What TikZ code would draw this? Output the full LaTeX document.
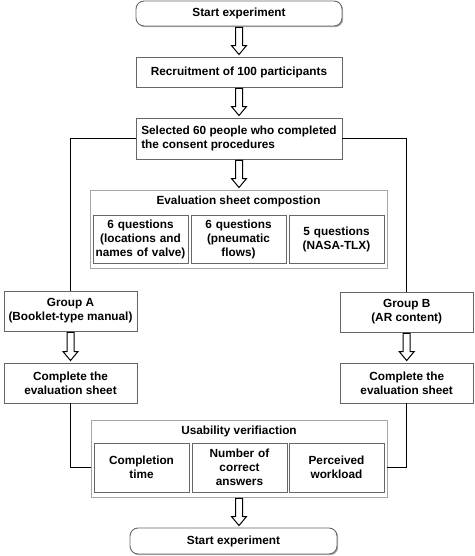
\documentclass[tikz,border=0pt]{standalone}
\usepackage{fontspec}
\setmainfont{Liberation Sans}
\usetikzlibrary{calc,shadows}
\tikzset{
  txt/.style={font=\fontsize{11.8}{14}\selectfont\bfseries, align=center},
  box/.style={txt, draw=black!60, line width=0.9pt, fill=white, inner sep=1pt,
    drop shadow={shadow xshift=1.2pt, shadow yshift=-1.2pt, fill=black!45, opacity=0.7}},
  outerbox/.style={draw=black!35, line width=0.9pt, fill=white, inner sep=0pt,
    drop shadow={shadow xshift=1.2pt, shadow yshift=-1.2pt, fill=black!30, opacity=0.6}},
  rbox/.style={box, rounded corners=8pt},
  conn/.style={draw=black, line width=1.2pt},
  harrow/.style={draw=black, line width=1pt, fill=white, line join=miter},
}
\newcommand{\harrow}[2]{%
  \draw[harrow] let \p1=(#1.south), \p2=(#2.north) in
    (\x1-3.5pt,\y1-1pt) -- (\x1-3.5pt,\y2+11pt) -- (\x1-7.5pt,\y2+11pt) --
    (\x1,\y2+2pt) -- (\x1+7.5pt,\y2+11pt) -- (\x1+3.5pt,\y2+11pt) --
    (\x1+3.5pt,\y1-1pt) -- cycle;}
\begin{document}
\begin{tikzpicture}[x=1pt,y=-1pt]
\useasboundingbox[fill=white] (0,0) rectangle (474,556);

\node[rbox, minimum width=206pt, minimum height=25pt] (start) at (239,13.5) {Start experiment};
\node[box, minimum width=206pt, minimum height=30pt] (recr) at (239,72) {Recruitment of 100 participants};
\node[box, minimum width=206pt, minimum height=41pt, align=left] (sel) at (239,138.5) {Selected 60 people who completed\\the consent procedures};

\node[outerbox, minimum width=297pt, minimum height=78pt] (eval) at (238.5,229) {};
\node[txt] (evalt) at (238.5,201) {Evaluation sheet compostion};
\node[box, minimum width=95pt, minimum height=48pt, text width=93pt] (e1) at (140.5,239) {6 questions\\(locations and\\names of valve)};
\node[box, minimum width=95pt, minimum height=48pt, text width=93pt] (e2) at (238.5,239) {6 questions\\(pneumatic\\flows)};
\node[box, minimum width=95pt, minimum height=48pt, text width=93pt] (e3) at (336.5,239) {5 questions\\(NASA-TLX)};

\node[box, minimum width=133pt, minimum height=40pt] (gA) at (70.5,311) {Group A\\(Booklet-type manual)};
\node[box, minimum width=133pt, minimum height=40pt] (gB) at (406.7,312) {Group B\\(AR content)};
\node[box, minimum width=133pt, minimum height=40pt] (cA) at (70.5,383) {Complete the\\evaluation sheet};
\node[box, minimum width=133pt, minimum height=40pt] (cB) at (406.7,383) {Complete the\\evaluation sheet};

\node[outerbox, minimum width=296pt, minimum height=77pt] (usab) at (239,458.5) {};
\node[txt] (usabt) at (239,431) {Usability verifiaction};
\node[box, minimum width=95pt, minimum height=49pt, text width=93pt] (u1) at (141.5,467.5) {Completion\\time};
\node[box, minimum width=95pt, minimum height=49pt, text width=93pt] (u2) at (239.5,467.5) {Number of\\correct\\answers};
\node[box, minimum width=95pt, minimum height=49pt, text width=93pt] (u3) at (336.5,467.5) {Perceived\\workload};

\node[rbox, minimum width=207pt, minimum height=26pt] (end) at (233.5,541) {Start experiment};

\harrow{start}{recr}
\harrow{recr}{sel}
\harrow{sel}{eval}
\harrow{gA}{cA}
\harrow{gB}{cB}
\harrow{usab}{end}

\draw[conn] (sel.west) -| (gA.north);
\draw[conn] (sel.east) -| (gB.north);
\draw[conn] (cA.south) |- (u1.west -| usab.west);
\draw[conn] (cB.south) |- (u3.east -| usab.east);
\end{tikzpicture}
\end{document}
